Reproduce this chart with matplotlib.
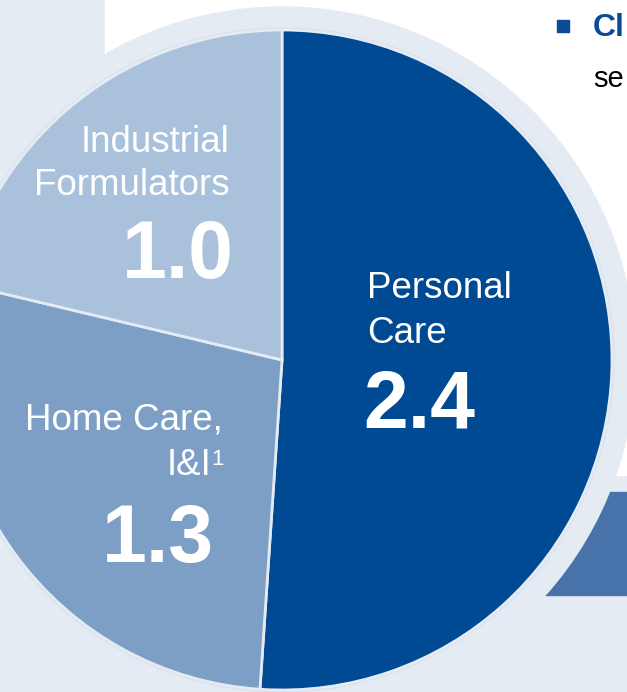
import numpy as np
import matplotlib
matplotlib.use("Agg")
import matplotlib.pyplot as plt
from matplotlib.patches import Circle, Rectangle

# segment sales (values shown on the slices)
segments = ["Personal Care", "Home Care, I&I", "Industrial Formulators"]
sales = [2.4, 1.3, 1.0]
colors = ["#004a93", "#7d9fc6", "#a9c1db"]

W, H = 627, 692
bg = "#e5ebf3"

fig = plt.figure(figsize=(W / 100, H / 100), dpi=100, facecolor=bg)
ax = fig.add_axes([0, 0, 1, 1])
ax.set_facecolor(bg)


def py(y):
    # pixel row -> data y
    return H - y


cx, cy = 282, py(360)

# slide pieces behind the chart
ax.add_patch(Rectangle((105, py(475)), W - 105, 475, color="white", zorder=0))
ax.add_patch(Rectangle((500, py(595)), W - 500, 103, color="#4872aa", zorder=0))
ax.add_patch(Circle((cx, cy), 353, color="#e4ebf3", zorder=1))
ax.add_patch(Circle((cx, cy), 332, color="#dae3ee", zorder=1))

wedges, _ = ax.pie(sales, colors=colors, startangle=90, counterclock=False,
                   center=(cx, cy), radius=330,
                   wedgeprops=dict(edgecolor=bg, linewidth=2.0))
for w in wedges:
    w.set_zorder(2)

ax.set_xlim(0, W)
ax.set_ylim(0, H)
ax.set_aspect("auto")
ax.axis("off")

font = "Liberation Sans"
lab = 26.5
big = 58

# Industrial Formulators
ax.text(230, py(152), "Industrial", ha="right", va="baseline", color="white", fontsize=lab, family=font, zorder=5)
ax.text(230, py(195), "Formulators", ha="right", va="baseline", color="white", fontsize=lab, family=font, zorder=5)
ax.text(234, py(278), f"{sales[2]:.1f}", ha="right", va="baseline", color="white", fontsize=big,
        fontweight="bold", family=font, zorder=5)

# Personal Care
ax.text(367, py(298), "Personal", ha="left", va="baseline", color="white", fontsize=lab, family=font, zorder=5)
ax.text(367, py(343), "Care", ha="left", va="baseline", color="white", fontsize=lab, family=font, zorder=5)
ax.text(363, py(428), f"{sales[0]:.1f}", ha="left", va="baseline", color="white", fontsize=big,
        fontweight="bold", family=font, zorder=5)

# Home Care, I&I
ax.text(223, py(430), "Home Care,", ha="right", va="baseline", color="white", fontsize=lab, family=font, zorder=5)
ax.text(211, py(475), "I&I", ha="right", va="baseline", color="white", fontsize=lab, family=font, zorder=5)
ax.text(211, py(465), "1", ha="left", va="baseline", color="white", fontsize=16, family=font, zorder=5)
ax.text(214, py(562), f"{sales[1]:.1f}", ha="right", va="baseline", color="white", fontsize=big,
        fontweight="bold", family=font, zorder=5)

# cut-off slide text on the right
ax.add_patch(Rectangle((557, py(32)), 12, 12, color="#0a4a96", zorder=5))
ax.text(593, py(36), "Cl", ha="left", va="baseline", color="#0a4a96", fontsize=23,
        fontweight="bold", family=font, zorder=5)
ax.text(593, py(87), "se", ha="left", va="baseline", color="black", fontsize=21, family=font, zorder=5)

fig.savefig("out.png", dpi=100, facecolor=bg)
